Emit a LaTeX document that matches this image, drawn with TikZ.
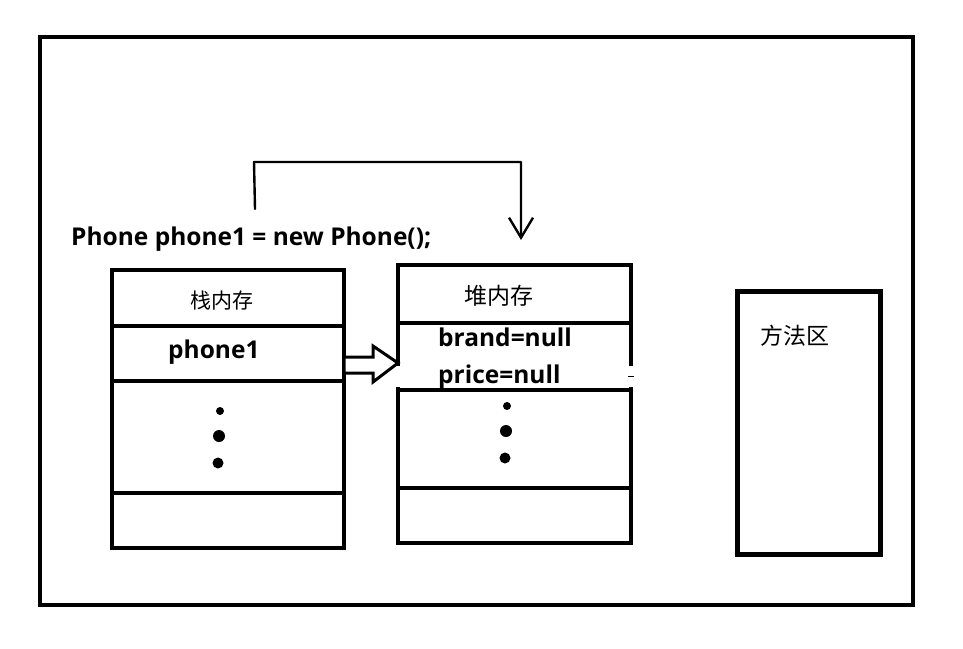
\documentclass[tikz,border=0pt]{standalone}
\usepackage{fontspec}
\setmainfont{Open Sans}
\newfontfamily\cjk{Noto Sans CJK SC}
\usetikzlibrary{arrows.meta}
\begin{document}
\begin{tikzpicture}[x=1pt,y=-1pt,
  frame/.style={draw, line width=4pt},
  box/.style={draw, line width=3.5pt, inner sep=0pt, outer sep=0pt, anchor=north west},
  divider/.style={line width=3.5pt},
  cnlabel/.style={font=\cjk\fontsize{21}{21}\selectfont, inner sep=0pt},
  codetext/.style={font=\bfseries\fontsize{24.5}{24.5}\selectfont, inner sep=0pt, anchor=base west},
  dotmark/.style={circle, fill, inner sep=0pt, minimum size=#1},
  link/.style={line width=2.4pt, line cap=round, line join=round}
]
\useasboundingbox (0,0) rectangle (963,648);
\fill[white] (0,0) rectangle (963,648);
\draw[frame] (40,37) rectangle (913,605);

% statement
\node[codetext] (stmt) at (71,245) {Phone phone1 = new Phone();};

% stack
\node[box, minimum width=232pt, minimum height=278pt] (stack) at (112,270) {};
\draw[divider] (stack.west |- 0,326) -- (stack.east |- 0,326);
\draw[divider] (stack.west |- 0,381) -- (stack.east |- 0,381);
\draw[divider] (stack.west |- 0,493) -- (stack.east |- 0,493);
\node[cnlabel] (stacklbl) at (222,301) {栈内存};
\node[codetext] (ref) at (168,358) {phone1};
\node[dotmark=8pt] (sd1) at (220,411) {};
\node[dotmark=12pt] (sd2) at (219,436) {};
\node[dotmark=11pt] (sd3) at (218,463) {};

% heap
\node[box, minimum width=233pt, minimum height=278pt] (heap) at (398,265) {};
\draw[divider] (heap.west |- 0,323) -- (heap.east |- 0,323);
\fill[white] (395,366) rectangle (634,387);
\draw[line width=1pt] (628,376) -- (634,376);
\draw[divider] (heap.west |- 0,390) -- (heap.east |- 0,390);
\draw[divider] (heap.west |- 0,488) -- (heap.east |- 0,488);
\node[cnlabel, font=\cjk\fontsize{23}{23}\selectfont] (heaplbl) at (499,296) {堆内存};
\node[codetext] (brand) at (438,346) {brand=null};
\node[codetext] (price) at (438,383) {price=null};
\node[dotmark=8pt] (hd1) at (507,406) {};
\node[dotmark=12pt] (hd2) at (506,431) {};
\node[dotmark=11pt] (hd3) at (505,458) {};

% method area
\node[box, line width=5pt, minimum width=143pt, minimum height=263pt] (method) at (737,291) {};
\node[cnlabel, font=\cjk\fontsize{23}{23}\selectfont, anchor=west] (methodlbl) at (760,336) {方法区};

% hollow arrow stack -> heap
\draw[line width=3pt, line join=miter, fill=white]
  (stack.east |- 0,357) -- (373,357) -- (373,346) -- (heap.west |- 0,363)
  -- (373,382) -- (373,373) -- (stack.east |- 0,373) -- cycle;

% new Phone() -> heap
\coordinate (from) at (255,209);
\coordinate (to) at (521,240);
\draw[link, -{Straight Barb[length=20pt,width=24pt,line width=2.4pt]}]
  (from) -- (254,162) -- (521,162) -- (to);
\end{tikzpicture}
\end{document}
